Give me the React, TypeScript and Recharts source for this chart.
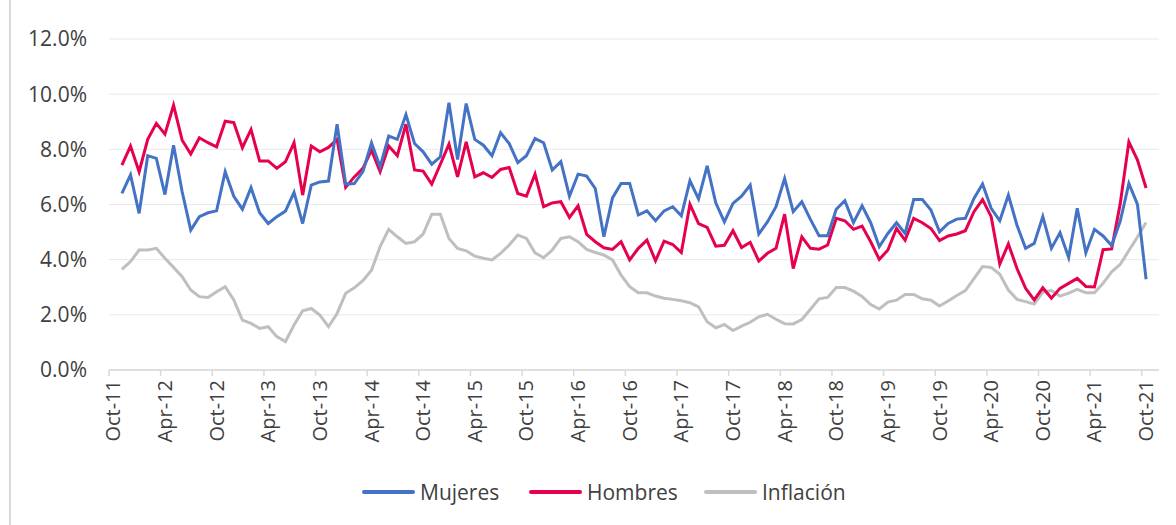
import { LineChart, Line, XAxis, YAxis, CartesianGrid } from "recharts";

// etiquetas del eje X, una cada 6 meses (Oct-11 ... Oct-21)
const TICK_LABELS = [
  "Oct-11", "Apr-12", "Oct-12", "Apr-13", "Oct-13", "Apr-14", "Oct-14",
  "Apr-15", "Oct-15", "Apr-16", "Oct-16", "Apr-17", "Oct-17", "Apr-18",
  "Oct-18", "Apr-19", "Oct-19", "Apr-20", "Oct-20", "Apr-21", "Oct-21",
];

// series mensuales desde Nov-11 hasta Oct-21 (en %)
const MUJERES = [
  6.40, 7.07, 5.68, 7.77, 7.67, 6.36, 8.15, 6.46, 5.07, 5.56, 5.70, 5.77,
  7.19, 6.30, 5.83, 6.61, 5.70, 5.31, 5.56, 5.76, 6.44, 5.31, 6.70, 6.82,
  6.85, 8.91, 6.74, 6.76, 7.19, 8.24, 7.37, 8.48, 8.36, 9.26, 8.21, 7.91,
  7.46, 7.73, 9.69, 7.63, 9.66, 8.36, 8.15, 7.77, 8.60, 8.21, 7.52, 7.77,
  8.39, 8.24, 7.25, 7.55, 6.30, 7.10, 7.03, 6.58, 4.83, 6.24, 6.76, 6.76,
  5.62, 5.77, 5.41, 5.77, 5.92, 5.59, 6.86, 6.20, 7.40, 6.06, 5.37, 6.04,
  6.30, 6.70, 4.93, 5.37, 5.92, 6.94, 5.74, 6.10, 5.46, 4.87, 4.87, 5.83,
  6.14, 5.34, 5.95, 5.34, 4.47, 4.95, 5.34, 4.95, 6.18, 6.18, 5.80, 5.01,
  5.31, 5.47, 5.50, 6.22, 6.74, 5.86, 5.41, 6.34, 5.25, 4.41, 4.59, 5.56,
  4.41, 4.98, 4.08, 5.86, 4.25, 5.10, 4.86, 4.51, 5.40, 6.76, 6.00, 3.29,
];

const HOMBRES = [
  7.43, 8.12, 7.19, 8.36, 8.94, 8.55, 9.60, 8.33, 7.83, 8.42, 8.24, 8.09,
  9.02, 8.97, 8.06, 8.72, 7.58, 7.58, 7.31, 7.55, 8.24, 6.34, 8.12, 7.91,
  8.07, 8.36, 6.62, 7.00, 7.31, 7.97, 7.19, 8.12, 7.77, 8.91, 7.25, 7.21,
  6.74, 7.46, 8.19, 7.00, 8.27, 7.00, 7.15, 6.98, 7.27, 7.34, 6.40, 6.30,
  7.10, 5.92, 6.06, 6.10, 5.53, 5.95, 4.92, 4.65, 4.43, 4.37, 4.65, 3.99,
  4.41, 4.71, 3.96, 4.67, 4.55, 4.26, 6.01, 5.31, 5.17, 4.49, 4.52, 5.05,
  4.44, 4.63, 3.95, 4.23, 4.41, 5.65, 3.68, 4.83, 4.41, 4.38, 4.53, 5.50,
  5.41, 5.10, 5.22, 4.65, 4.01, 4.35, 5.13, 4.71, 5.50, 5.34, 5.13, 4.69,
  4.86, 4.93, 5.05, 5.74, 6.18, 5.56, 3.84, 4.57, 3.68, 2.96, 2.54, 2.98,
  2.60, 2.96, 3.14, 3.32, 3.03, 3.01, 4.36, 4.39, 6.04, 8.27, 7.61, 6.60,
];

const INFLACION = [
  3.65, 3.93, 4.35, 4.35, 4.41, 4.05, 3.72, 3.38, 2.90, 2.66, 2.63, 2.84,
  3.02, 2.54, 1.81, 1.69, 1.51, 1.57, 1.21, 1.03, 1.63, 2.15, 2.23, 1.99,
  1.57, 2.05, 2.78, 2.98, 3.24, 3.62, 4.47, 5.10, 4.83, 4.59, 4.65, 4.93,
  5.65, 5.65, 4.77, 4.41, 4.32, 4.13, 4.05, 3.99, 4.23, 4.53, 4.89, 4.77,
  4.25, 4.07, 4.35, 4.77, 4.83, 4.65, 4.37, 4.26, 4.17, 3.99, 3.44, 3.02,
  2.80, 2.80, 2.68, 2.60, 2.56, 2.51, 2.44, 2.29, 1.75, 1.53, 1.65, 1.43,
  1.59, 1.73, 1.93, 2.02, 1.84, 1.68, 1.67, 1.83, 2.20, 2.58, 2.63, 2.99,
  2.99, 2.86, 2.67, 2.37, 2.21, 2.46, 2.53, 2.74, 2.74, 2.58, 2.53, 2.32,
  2.50, 2.70, 2.88, 3.31, 3.75, 3.72, 3.47, 2.90, 2.56, 2.48, 2.39, 2.82,
  2.88, 2.68, 2.79, 2.92, 2.80, 2.80, 3.14, 3.56, 3.83, 4.33, 4.82, 5.35,
];

const Y_TICKS = [0, 2, 4, 6, 8, 10, 12];

const FIRST_MONTH = 1; // Oct-11 = 0, primer dato en Nov-11
const N_SLOTS = 122;   // meses en el eje (Oct-11 ... Nov-21)

const data = MUJERES.map((m, i) => ({
  x: FIRST_MONTH + i,
  mujeres: m,
  hombres: HOMBRES[i],
  inflacion: INFLACION[i],
}));

const W = 1176;
const H = 525;
const PLOT_LEFT = 109;
const PLOT_RIGHT = 1159;
const PLOT_TOP = 39;
const PLOT_BOTTOM = 370;
const HALF_SLOT = (PLOT_RIGHT - PLOT_LEFT) / N_SLOTS / 2;

const FONT = "'Open Sans', sans-serif";
const TEXT = "#404040";
const AXIS = "#D9D9D9";

const COLORS = { mujeres: "#4472C4", hombres: "#E6004F", inflacion: "#BFBFBF" };

function XTick({ x, y, payload }: any) {
  const label = TICK_LABELS[Math.round(payload.value / 6)];
  const ty = y + 10;
  return (
    <g>
      <line x1={x - HALF_SLOT} x2={x - HALF_SLOT} y1={y} y2={y + 6} stroke={AXIS} strokeWidth={1.5} />
      <text
        x={x}
        y={ty}
        dy="0.35em"
        transform={`rotate(-90 ${x} ${ty})`}
        textAnchor="end"
        fill={TEXT}
        fontSize={20}
        fontFamily={FONT}
      >
        {label}
      </text>
    </g>
  );
}

const LEGEND = [
  { label: "Mujeres", color: COLORS.mujeres, left: 362 },
  { label: "Hombres", color: COLORS.hombres, left: 529 },
  { label: "Inflación", color: COLORS.inflacion, left: 704 },
];

export default function App() {
  return (
    <div style={{ position: "absolute", left: 0, top: 0, width: W, height: H, background: "#fff", overflow: "hidden" }}>
      <div style={{ position: "absolute", left: 9, top: 0, width: 2, height: H, background: AXIS }} />
      <LineChart width={W} height={H} data={data} margin={{ top: PLOT_TOP, right: W - PLOT_RIGHT, left: 10, bottom: 0 }}>
        <CartesianGrid vertical={false} stroke="#E9E9E9" strokeWidth={1} />
        <XAxis
          type="number"
          dataKey="x"
          domain={[-0.5, N_SLOTS - 0.5]}
          ticks={TICK_LABELS.map((_, k) => k * 6)}
          interval={0}
          height={H - PLOT_BOTTOM}
          tickLine={false}
          tickSize={0}
          tickMargin={0}
          axisLine={{ stroke: AXIS, strokeWidth: 1.5 }}
          tick={<XTick />}
        />
        <YAxis
          type="number"
          domain={[0, 12]}
          ticks={Y_TICKS}
          width={PLOT_LEFT - 10}
          axisLine={false}
          tickLine={false}
          tickSize={0}
          tickMargin={22}
          tickFormatter={(v: number) => `${v.toFixed(1)}%`}
          tick={{ fill: TEXT, fontSize: 21, fontFamily: FONT }}
        />
        <Line type="linear" dataKey="inflacion" stroke={COLORS.inflacion} strokeWidth={3} dot={false} isAnimationActive={false} />
        <Line type="linear" dataKey="hombres" stroke={COLORS.hombres} strokeWidth={3} dot={false} isAnimationActive={false} />
        <Line type="linear" dataKey="mujeres" stroke={COLORS.mujeres} strokeWidth={3} dot={false} isAnimationActive={false} />
      </LineChart>
      {LEGEND.map((it) => (
        <div
          key={it.label}
          style={{ position: "absolute", left: it.left, top: 476, height: 32, display: "flex", alignItems: "center", fontFamily: FONT, fontSize: 21, color: TEXT }}
        >
          <span style={{ display: "inline-block", width: 53, height: 4, borderRadius: 2, background: it.color, marginRight: 5 }} />
          <span>{it.label}</span>
        </div>
      ))}
    </div>
  );
}
